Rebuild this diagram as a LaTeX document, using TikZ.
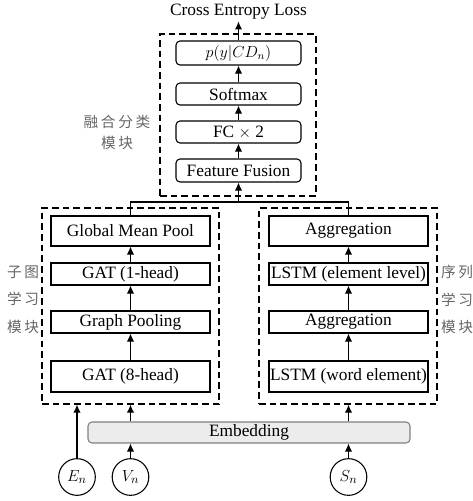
\documentclass[tikz,border=0pt]{standalone}
\usepackage{fontspec}
\setmainfont{Liberation Serif}
\newfontfamily\cjk[LetterSpace=18]{Noto Sans CJK SC}
\usetikzlibrary{arrows.meta,positioning}

\begin{document}
\begin{tikzpicture}[x=0.75pt, y=-0.75pt, >={Latex[length=6pt,width=5.5pt]}, line width=0.8pt,
    font=\fontsize{13}{15}\selectfont,
    fusebox/.style={draw, rounded corners=3pt, minimum width=93.75pt, minimum height=16.5pt, inner sep=0pt},
    layerbox/.style={draw, minimum width=119.25pt, minimum height=16.5pt, inner sep=0pt},
    inputnode/.style={draw, circle, minimum size=27.5pt, inner sep=0pt},
    modulebox/.style={draw, dash pattern=on 5pt off 3pt, line width=1pt, inner sep=0pt},
    modlabel/.style={black!60, font=\cjk\fontsize{11}{15.75}\selectfont, align=center}]

    \useasboundingbox (0,0) rectangle (473,501);

    % -------------------------------------------------------
    % 1. Module frames
    % -------------------------------------------------------
    \node[modulebox, minimum width=117pt, minimum height=121.5pt] (fusemod) at (238,115) {};
    \node[modulebox, minimum width=132.75pt, minimum height=147pt] (submod) at (130.5,306) {};
    \node[modulebox, minimum width=133.5pt, minimum height=147pt] (seqmod) at (348,306) {};

    \node[modlabel] (fuselabel) at (117,132.5) {融合分类\\模块};
    \node[modlabel, font=\cjk\fontsize{11}{20.6}\selectfont] (sublabel) at (23,299.5) {子图\\学习\\模块};
    \node[modlabel, font=\cjk\fontsize{11}{20.6}\selectfont] (seqlabel) at (457,299.5) {序列\\学习\\模块};

    % -------------------------------------------------------
    % 2. Fusion and classification
    % -------------------------------------------------------
    \node[inner sep=1pt] (loss) at (238.5,12) {Cross Entropy Loss};
    \node[fusebox, minimum height=18pt] (prob) at (238.5,53) {\large $p(y|CD_n)$};
    \node[fusebox] (softmax) at (238.5,94) {Softmax};
    \node[fusebox] (fc) at (238.5,132) {FC $\times$ 2};
    \node[fusebox, minimum height=17.25pt] (fusion) at (238.5,170.5) {Feature Fusion};

    % -------------------------------------------------------
    % 3. Subgraph branch
    % -------------------------------------------------------
    \node[layerbox, minimum height=22.5pt] (gmp) at (130.5,231) {Global Mean Pool};
    \node[layerbox] (gat1) at (130.5,274) {GAT (1-head)};
    \node[layerbox] (gpool) at (130.5,322) {Graph Pooling};
    \node[layerbox, minimum height=23.25pt] (gat8) at (130.5,376.5) {GAT (8-head)};

    % -------------------------------------------------------
    % 4. Sequence branch
    % -------------------------------------------------------
    \node[layerbox, minimum height=22.5pt] (agg2) at (348.5,231) {Aggregation};
    \node[layerbox] (lstme) at (348.5,274) {LSTM (element level)};
    \node[layerbox] (agg1) at (348.5,322) {Aggregation};
    \node[layerbox, minimum height=23.25pt] (lstmw) at (348.5,376.5) {LSTM (word element)};

    % -------------------------------------------------------
    % 5. Inputs
    % -------------------------------------------------------
    \node[draw=gray, fill=gray!15, rounded corners=3pt, minimum width=241.5pt,
          minimum height=15.75pt, inner sep=0pt] (embed) at (249,432.5) {Embedding};
    \node[inputnode] (en) at (77,477) {$E_n$};
    \node[inputnode] (vn) at (130.5,477) {$V_n$};
    \node[inputnode] (sn) at (348.5,477) {$S_n$};

    % -------------------------------------------------------
    % 6. Connections
    % -------------------------------------------------------
    \foreach \a/\b in {gat8/gpool, gpool/gat1, gat1/gmp, lstmw/agg1, agg1/lstme,
                       lstme/agg2, fusion/fc, fc/softmax, softmax/prob, prob/loss}
      \draw[->] (\a) -- (\b);

    \draw[->] (en) -- (en |- submod.south);
    \draw[->] (vn) -- (embed.south -| vn);
    \draw[->] (sn) -- (embed.south -| sn);
    \draw[->] (embed.north -| vn) -- (submod.south -| vn);
    \draw[->] (embed.north -| sn) -- (seqmod.south -| sn);

    \coordinate (merge) at (238.5,202);
    \draw (gmp.north) |- (merge) -| (agg2.north);
    \draw[->] (merge) -- (fusion);
\end{tikzpicture}
\end{document}
